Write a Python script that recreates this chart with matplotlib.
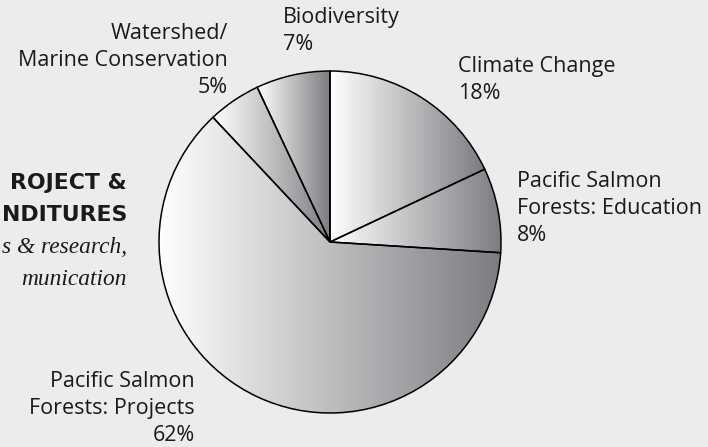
import numpy as np
import matplotlib.pyplot as plt
from matplotlib.colors import LinearSegmentedColormap

# data
labels = ['Climate Change', 'Pacific Salmon\nForests: Education',
          'Pacific Salmon\nForests: Projects', 'Watershed/\nMarine Conservation',
          'Biodiversity']
shares = [18, 8, 62, 5, 7]
title_lines = ['ROJECT &', 'NDITURES']
subtitle_lines = ['s & research,', 'munication']

W, H = 708, 447
fig = plt.figure(figsize=(W / 100, H / 100), dpi=100)
fig.patch.set_facecolor('#ececec')

# pie centre and radius in pixels
cx, cy, r = 330, 242, 171
pad = 1.03
ax = fig.add_axes([(cx - r * pad) / W, (H - cy - r * pad) / H,
                   2 * r * pad / W, 2 * r * pad / H])
wedges, _ = ax.pie(shares, startangle=90, counterclock=False, radius=1,
                   wedgeprops=dict(edgecolor='black', linewidth=1.1,
                                   facecolor='none'))

# every wedge gets its own left-to-right grey gradient
grad = LinearSegmentedColormap.from_list('g', ['#ffffff', '#7c7d81'])
ramp = np.linspace(0, 1, 256).reshape(1, -1)
for w in wedges:
    t = np.radians(np.linspace(w.theta1, w.theta2, 300))
    xs = np.append(np.cos(t), 0)
    ys = np.append(np.sin(t), 0)
    im = ax.imshow(ramp, cmap=grad, aspect='auto', zorder=0.5,
                   extent=[xs.min(), xs.max(), ys.min(), ys.max()])
    im.set_clip_path(w)

ax.set_xlim(-pad, pad)
ax.set_ylim(-pad, pad)
ax.axis('off')

font = 'Open Sans'
fs = 15.5
col = '#1a1a1a'


def put(lines, x, y0, ha, step=27, **kw):
    for i, line in enumerate(lines):
        fig.text(x / W, 1 - (y0 + i * step) / H, line, ha=ha, va='baseline',
                 color=col, **kw)


# (x, first baseline, alignment) for each slice label
spots = [(458, 72, 'left'), (517, 187, 'left'), (195, 387, 'right'),
         (228, 39, 'right'), (283, 23, 'left')]
for lab, v, (x, y, ha) in zip(labels, shares, spots):
    put(lab.split('\n') + [f'{v}%'], x, y, ha, family=font, fontsize=fs)

# the heading on the left (its start lies beyond the reference's edge)
put(title_lines, 127, 189, 'right', step=32, family='DejaVu Sans',
    fontsize=15.8, fontweight='heavy')
put(subtitle_lines, 127, 253, 'right', step=32, family='Liberation Serif',
    fontsize=16.8, style='italic')

fig.savefig('out.png', dpi=100, facecolor=fig.get_facecolor())
